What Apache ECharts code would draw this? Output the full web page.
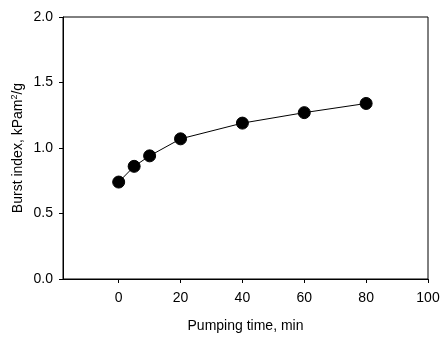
<!DOCTYPE html>
<html>
<head>
<meta charset="utf-8">
<script src="https://cdn.jsdelivr.net/npm/echarts@6/dist/echarts.min.js"></script>
<style>
  html, body { margin: 0; padding: 0; background: #fff; }
  #chart { width: 446px; height: 345px; }
</style>
</head>
<body>
<div id="chart"></div>
<script>
// Burst index versus pumping time
const pumpingTime = [0, 5, 10, 20, 40, 60, 80];
const burstIndex = [0.74, 0.86, 0.94, 1.07, 1.19, 1.27, 1.34];
const xTicks = [0, 20, 40, 60, 80, 100];
const yTicks = [0.0, 0.5, 1.0, 1.5, 2.0];

const FONT = 'Liberation Sans, Arial, sans-serif';
const chart = echarts.init(document.getElementById('chart'), null, { renderer: 'canvas' });

chart.setOption({
  animation: false,
  backgroundColor: '#ffffff',
  grid: {
    left: 63, top: 17, right: 18, bottom: 66,
    outerBoundsMode: 'none', containLabel: false,
    show: true, borderColor: '#000', borderWidth: 1, backgroundColor: 'transparent'
  },
  xAxis: {
    type: 'value',
    min: -18,
    max: 100,
    name: 'Pumping time, min',
    nameLocation: 'middle',
    nameGap: 40,
    nameMoveOverlap: false,
    nameTextStyle: { fontFamily: FONT, fontSize: 14, color: '#000' },
    axisLine: { show: true, onZero: false, lineStyle: { color: '#000', width: 1 } },
    axisTick: { show: true, inside: false, length: 4, lineStyle: { color: '#000' }, customValues: xTicks },
    axisLabel: { fontFamily: FONT, fontSize: 14, color: '#000', margin: 12, customValues: xTicks },
    splitLine: { show: false }
  },
  yAxis: {
    type: 'value',
    min: 0,
    max: 2,
    interval: 0.5,
    name: '{t|Burst index, kPam}{s|2}{t|/g}',
    nameLocation: 'middle',
    nameGap: 37,
    nameMoveOverlap: false,
    nameTextStyle: {
      rich: {
        t: { fontFamily: FONT, fontSize: 14, color: '#000' },
        s: { fontFamily: FONT, fontSize: 9, color: '#000', verticalAlign: 'top', padding: [0, 0, 7, 0] }
      }
    },
    axisLine: { show: true, onZero: false, lineStyle: { color: '#000', width: 1 } },
    axisTick: { show: true, inside: false, length: 4, lineStyle: { color: '#000' }, customValues: yTicks },
    axisLabel: { fontFamily: FONT, fontSize: 14, color: '#000', margin: 10, customValues: yTicks,
      formatter: v => v.toFixed(1) },
    splitLine: { show: false }
  },
  series: [{
    type: 'line',
    data: pumpingTime.map((t, i) => [t, burstIndex[i]]),
    symbol: 'circle',
    symbolSize: 12,
    lineStyle: { color: '#000', width: 1 },
    itemStyle: { color: '#000', borderColor: '#000' }
  }]
});
</script>
</body>
</html>
